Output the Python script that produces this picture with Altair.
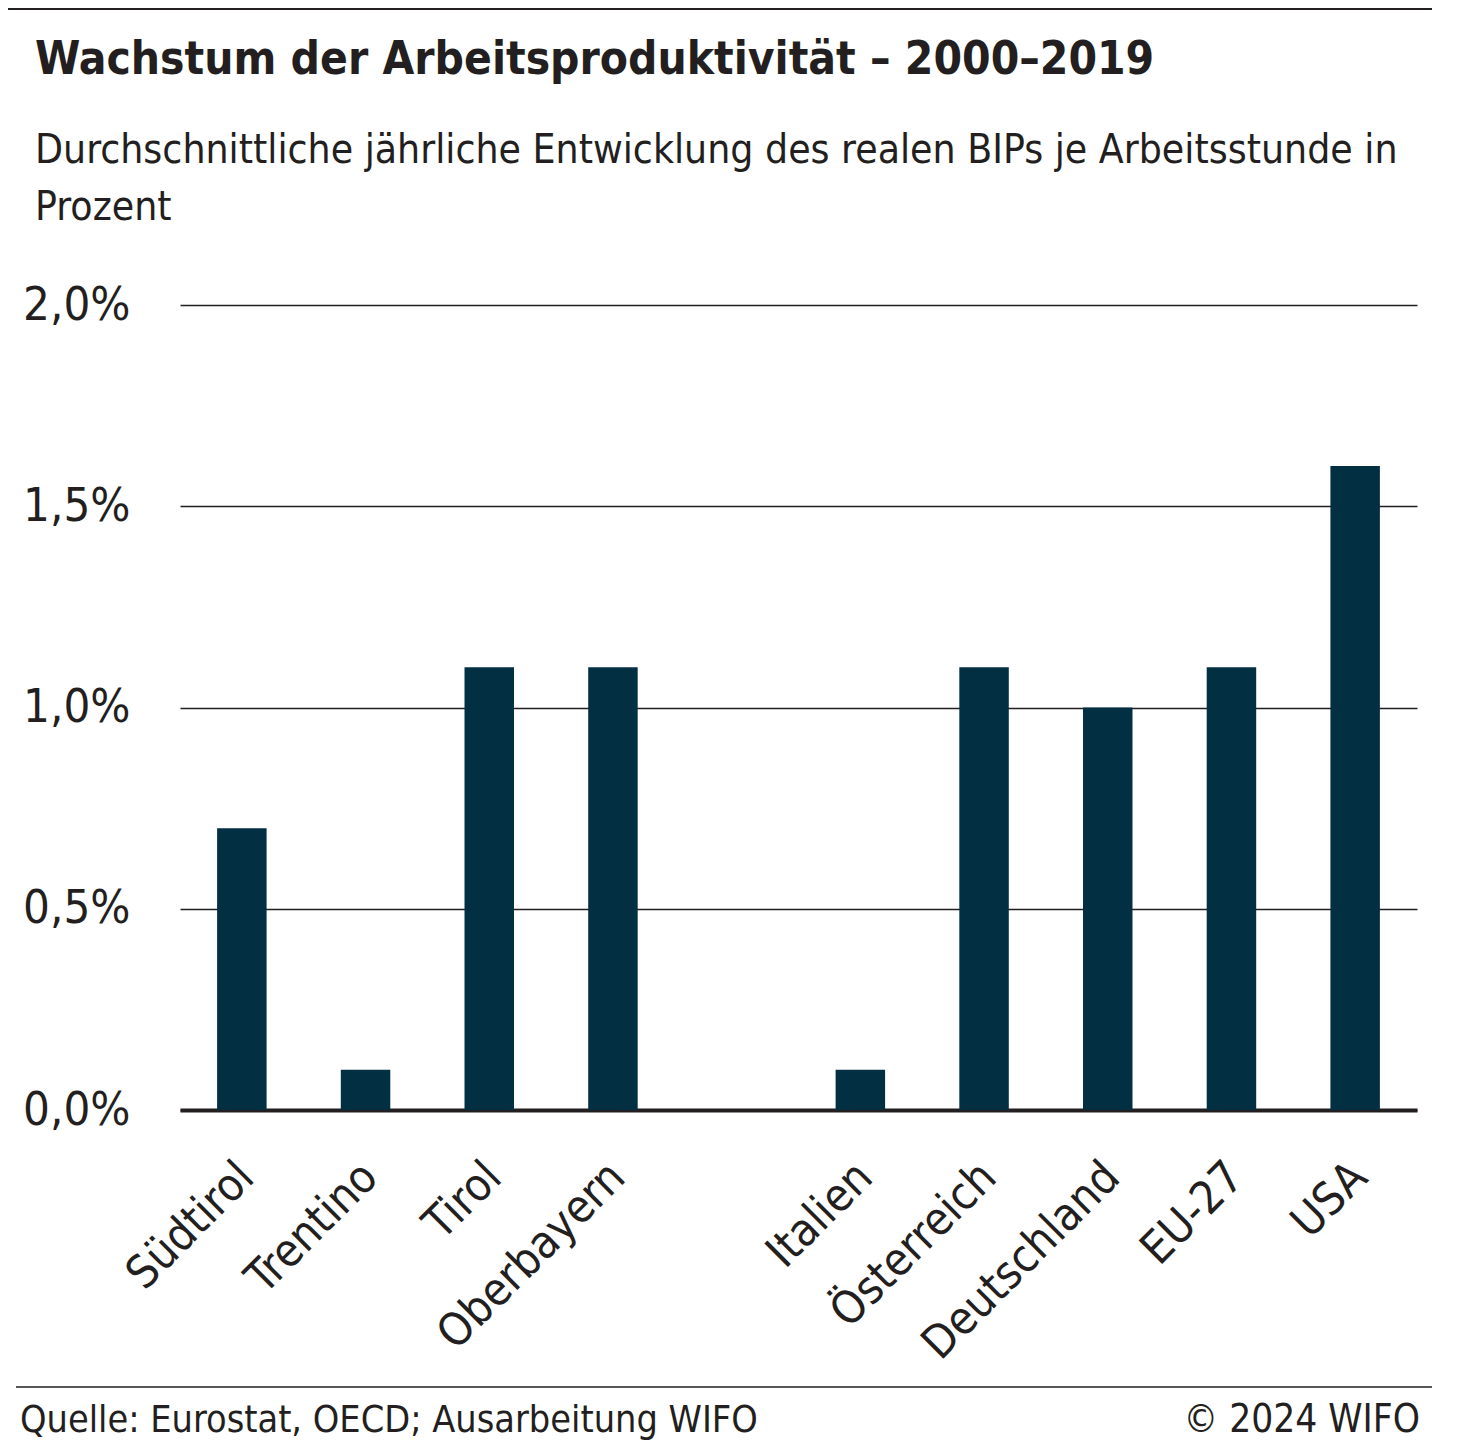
import altair as alt
import pandas as pd

# ---- data ----
categories = ["Südtirol", "Trentino", "Tirol", "Oberbayern",
              "Italien", "Österreich", "Deutschland", "EU-27", "USA"]
values = [0.7, 0.1, 1.1, 1.1, 0.1, 1.1, 1.0, 1.1, 1.6]
axis_order = ["Südtirol", "Trentino", "Tirol", "Oberbayern", " ",
              "Italien", "Österreich", "Deutschland", "EU-27", "USA"]
y_ticks = [0.0, 0.5, 1.0, 1.5, 2.0]

title_text = "Wachstum der Arbeitsproduktivität – 2000–2019"
subtitle_1 = "Durchschnittliche jährliche Entwicklung des realen BIPs je Arbeitsstunde in"
subtitle_2 = "Prozent"
source_text = "Quelle: Eurostat, OECD; Ausarbeitung WIFO"
copyright_text = "© 2024 WIFO"

FONT = "DejaVu Sans Condensed, Liberation Sans Narrow, sans-serif"
TXT = "#231f20"
BAR = "#032f42"
W, H = 1237, 805

df = pd.DataFrame({"region": categories, "wert": values})

bars = alt.Chart(df).mark_bar(color=BAR).encode(
    x=alt.X(
        "region:N",
        sort=axis_order,
        scale=alt.Scale(domain=axis_order, paddingInner=0.6, paddingOuter=0.3),
        axis=alt.Axis(
            title=None, labelAngle=-45, labelAlign="right", labelBaseline="top",
            labelFontSize=45.5, labelFont=FONT, labelColor=TXT, labelPadding=44,
            labelOffset=-11, ticks=False, domainWidth=4, domainColor=TXT,
            grid=False, labelOverlap=False, labelBound=False, labelLimit=0,
        ),
    ),
    y=alt.Y(
        "wert:Q",
        scale=alt.Scale(domain=[0, 2], nice=False),
        axis=alt.Axis(
            title=None, values=y_ticks,
            labelExpr="replace(format(datum.value, '.1f'), '.', ',') + '%'",
            labelFontSize=47, labelFont=FONT, labelColor=TXT, labelPadding=50,
            domain=False, ticks=False, grid=True, gridColor=TXT, gridWidth=1.3,
        ),
    ),
)

one = alt.Data(values=[{}])


def text_layer(txt, x, y, size, weight="normal", align="left"):
    return alt.Chart(one).mark_text(
        text=txt, font=FONT, fontSize=size, fontWeight=weight, color=TXT,
        align=align, baseline="alphabetic",
    ).encode(x=alt.value(x), y=alt.value(y))


def rule_layer(x1, x2, y, w):
    return alt.Chart(one).mark_rule(color=TXT, strokeWidth=w).encode(
        x=alt.value(x1), x2=alt.value(x2), y=alt.value(y)
    )


chart = alt.layer(
    bars,
    rule_layer(-172, 1252, -296, 2),
    text_layer(title_text, -145, -231, 45.7, "bold"),
    text_layer(subtitle_1, -145, -142, 40.5),
    text_layer(subtitle_2, -145, -85, 40.5),
    rule_layer(-164, 1252, 1082, 1.5),
    text_layer(source_text, -160, 1127, 37.5),
    text_layer(copyright_text, 1240, 1127, 38.5, align="right"),
).properties(
    width=W, height=H,
    padding={"left": 172, "top": 297, "right": 56, "bottom": 332},
    autosize=alt.AutoSizeParams(type="none"),
    background="white",
).configure_view(stroke=None)

chart.save("out.html", embed_options={"renderer": "svg", "actions": False})
